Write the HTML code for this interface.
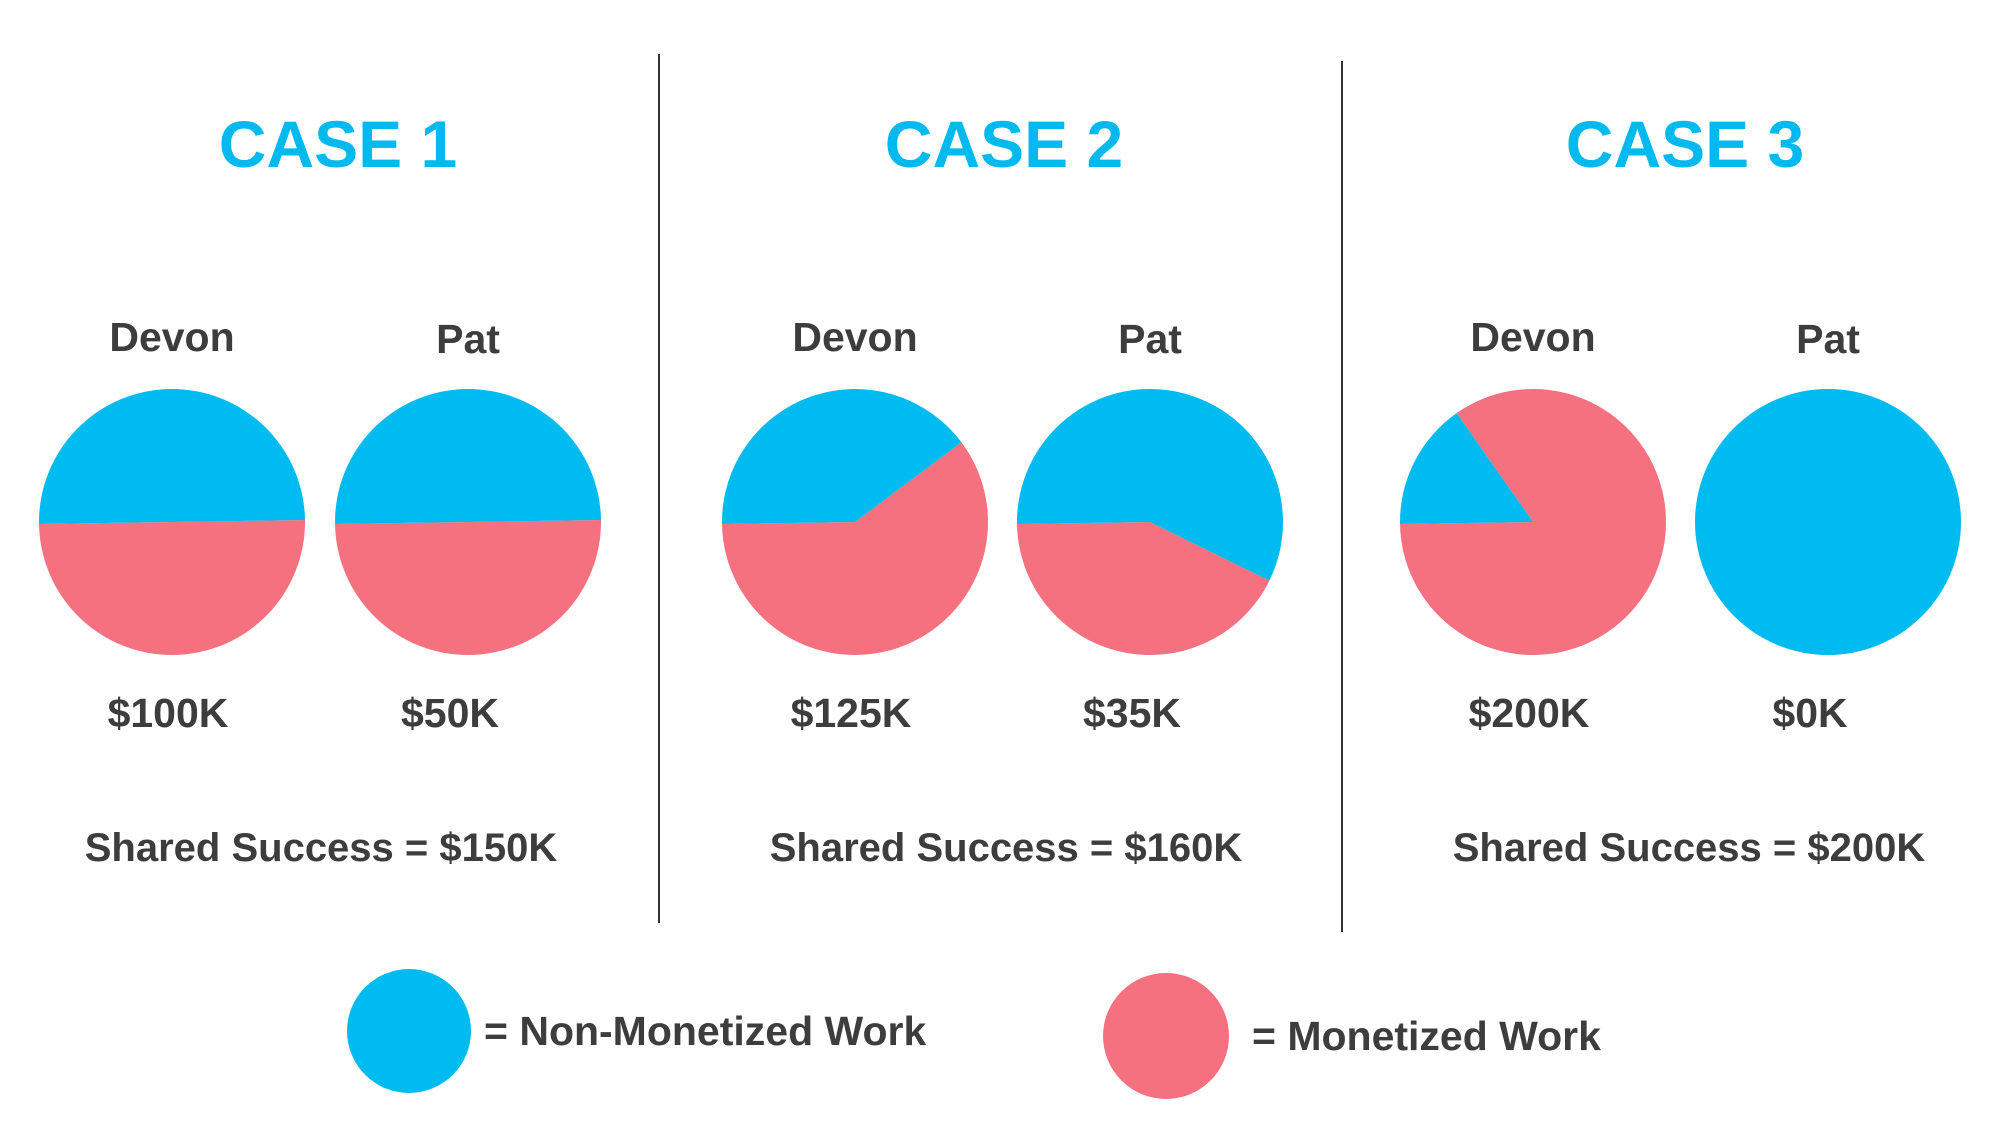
<!DOCTYPE html>
<html><head><meta charset="utf-8"><style>
html,body{margin:0;padding:0;background:#fff;}
svg{display:block;font-family:"Liberation Sans",Arial,sans-serif;}
</style></head><body>
<svg id="chart" width="2000" height="1125" viewBox="0 0 2000 1125" xmlns="http://www.w3.org/2000/svg">
<rect width="2000" height="1125" fill="#fff"/>
<line x1="659" y1="54" x2="659" y2="923" stroke="#333" stroke-width="2"/>
<line x1="1342" y1="61" x2="1342" y2="932" stroke="#333" stroke-width="2"/>
<g id="pies"></g>
<g font-weight="bold" fill="#00B9EE" font-size="66" text-anchor="middle">
<text x="338" y="167">CASE 1</text>
<text x="1004" y="167">CASE 2</text>
<text x="1685" y="167">CASE 3</text>
</g>
<g fill="#3d3d3d" font-size="40" font-weight="bold" text-anchor="middle">
<text x="321" y="861">Shared Success = $150K</text>
<text x="1006" y="861">Shared Success = $160K</text>
<text x="1689" y="861">Shared Success = $200K</text>
</g>
<circle cx="409" cy="1031" r="62" fill="#00BBEF"/>
<text x="484" y="1045" fill="#3d3d3d" font-size="41" font-weight="bold">= Non-Monetized Work</text>
<circle cx="1166" cy="1036" r="63" fill="#F57180"/>
<text x="1252" y="1050" fill="#3d3d3d" font-size="41" font-weight="bold">= Monetized Work</text>
</svg>
<script>
const people = ["Devon","Pat","Devon","Pat","Devon","Pat"];
const amounts = ["$100K","$50K","$125K","$35K","$200K","$0K"];
const nonMonetizedShare = [0.5,0.5,0.40,0.575,0.155,1.0];
const centersX = [172,468,855,1150,1533,1828];
const cy = 522, R = 133;
const NS = "http://www.w3.org/2000/svg";
const g = document.getElementById("pies");
function pt(cx, a){ return [cx + R*Math.cos(a), cy - R*Math.sin(a)]; }
function slice(cx, a0, a1, color){
  const sweep = a0 - a1;
  if (sweep >= 2*Math.PI - 1e-6){
    const c = document.createElementNS(NS,"circle");
    c.setAttribute("cx",cx); c.setAttribute("cy",cy); c.setAttribute("r",R); c.setAttribute("fill",color);
    return c;
  }
  const p0 = pt(cx,a0), p1 = pt(cx,a1);
  const large = sweep > Math.PI ? 1 : 0;
  const p = document.createElementNS(NS,"path");
  p.setAttribute("d",`M${cx},${cy} L${p0[0]},${p0[1]} A${R},${R} 0 ${large} 1 ${p1[0]},${p1[1]} Z`);
  p.setAttribute("fill",color);
  return p;
}
for (let i=0;i<people.length;i++){
  const cx = centersX[i];
  const b = nonMonetizedShare[i];
  const start = Math.PI + 0.015;
  const mid = start - b*2*Math.PI;
  if (b < 1){
    const r = slice(cx, mid, start - 2*Math.PI, "#F57180");
    
    
    g.appendChild(r);
  }
  if (b > 0){
    const bl = slice(cx, start, mid, "#00BBEF");
    
    
    g.appendChild(bl);
  }
  const nm = document.createElementNS(NS,"text");
  
  
  nm.setAttribute("x",cx); nm.setAttribute("y", i%2 ? 353 : 351);
  nm.setAttribute("text-anchor","middle"); nm.setAttribute("font-size","41");
  nm.setAttribute("font-weight","bold"); nm.setAttribute("fill","#3d3d3d");
  nm.textContent = people[i];
  g.appendChild(nm);
  const am = document.createElementNS(NS,"text");
  
  
  am.setAttribute("x",cx - (i%2 ? 18 : 4)); am.setAttribute("y",727);
  am.setAttribute("text-anchor","middle"); am.setAttribute("font-size","41");
  am.setAttribute("font-weight","bold"); am.setAttribute("fill","#3d3d3d");
  am.textContent = amounts[i];
  g.appendChild(am);
}
</script>
</body></html>
